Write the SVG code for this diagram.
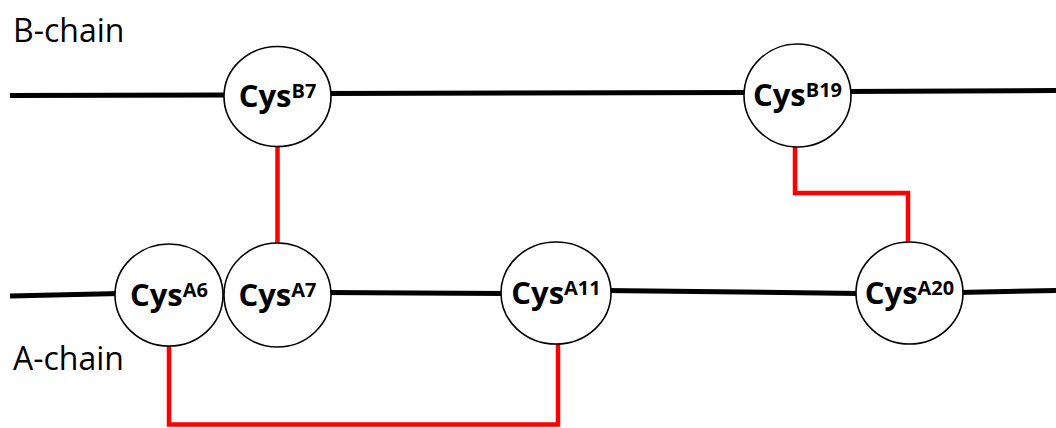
<svg xmlns="http://www.w3.org/2000/svg" width="1056" height="428" viewBox="0 0 1056 428">
<style>
.chain{stroke:#000;stroke-width:5;fill:none}
.ss{stroke:#ff0000;stroke-width:4.5;fill:none}
.node ellipse{fill:#fff;stroke:#000;stroke-width:1.6}
.lbl{font-family:"Open Sans","Liberation Sans",sans-serif;font-weight:bold;font-size:31px;fill:#000}
.sup{font-size:20px}
.cap{font-family:"Open Sans","Liberation Sans",sans-serif;font-size:32px;fill:#000}
</style>
<rect width="1056" height="428" fill="#fff"/>
<text class="cap" x="13" y="42">B-chain</text>
<text class="cap" x="13" y="370">A-chain</text>
<g id="connectors">
<path class="chain" d="M10,95.5 L230,95"/>
<path class="chain" d="M325,93.5 L750,92.5"/>
<path class="chain" d="M845,91.5 L1056,90.5"/>
<path class="chain" d="M10,296 L120,293.5"/>
<path class="chain" d="M325,292.5 L505,293.5"/>
<path class="chain" d="M605,290.5 L860,293.5"/>
<path class="chain" d="M958,292.5 L1056,290.5"/>
<path class="ss" d="M277.5,146 L277.5,243"/>
<path class="ss" d="M795,147 L795,193 L908,193 L908,242"/>
<path class="ss" d="M169,346 L169,424.5 L558,424.5 L558,344"/>
</g>
<g id="cysB7" class="node"><ellipse cx="277.5" cy="96.5" rx="53.5" ry="50"/><text class="lbl" x="277.5" y="107" text-anchor="middle">Cys<tspan class="sup" dy="-9">B7</tspan></text></g>
<g id="cysB19" class="node"><ellipse cx="797.5" cy="95.5" rx="53.5" ry="51.5"/><text class="lbl" x="797.5" y="106" text-anchor="middle">Cys<tspan class="sup" dy="-9">B19</tspan></text></g>
<g id="cysA6" class="node"><ellipse cx="169" cy="295" rx="54" ry="51"/><text class="lbl" x="169" y="305.5" text-anchor="middle">Cys<tspan class="sup" dy="-9">A6</tspan></text></g>
<g id="cysA7" class="node"><ellipse cx="277.5" cy="295" rx="53.5" ry="52"/><text class="lbl" x="277.5" y="305.5" text-anchor="middle">Cys<tspan class="sup" dy="-9">A7</tspan></text></g>
<g id="cysA11" class="node"><ellipse cx="556" cy="293" rx="55" ry="51"/><text class="lbl" x="556" y="303.5" text-anchor="middle">Cys<tspan class="sup" dy="-9">A11</tspan></text></g>
<g id="cysA20" class="node"><ellipse cx="909.5" cy="293" rx="53.5" ry="51"/><text class="lbl" x="909.5" y="303.5" text-anchor="middle">Cys<tspan class="sup" dy="-9">A20</tspan></text></g>
</svg>
